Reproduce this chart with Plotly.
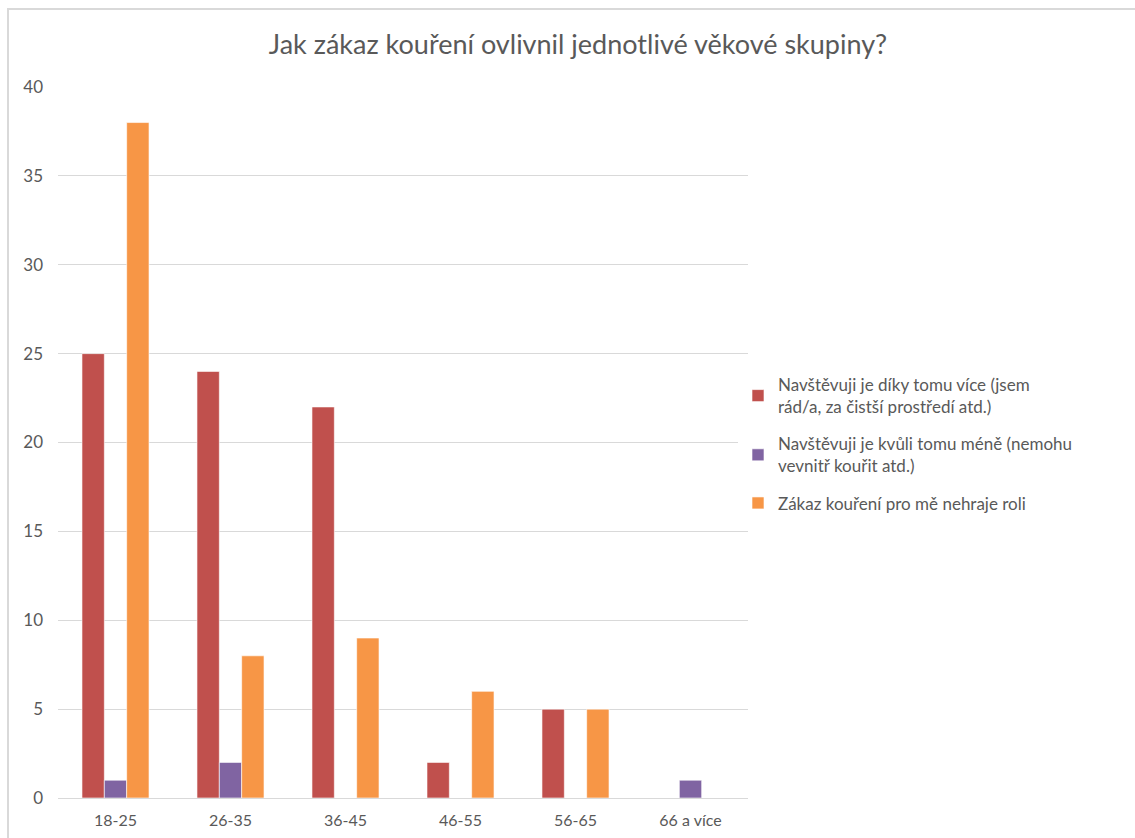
import plotly.graph_objects as go

categories = ["18-25", "26-35", "36-45", "46-55", "56-65", "66 a více"]
more_visits = [25, 24, 22, 2, 5, None]
less_visits = [1, 2, None, None, None, 1]
no_role = [38, 8, 9, 6, 5, None]

series_names = [
    "Navštěvuji je díky tomu více (jsem<br>rád/a, za čistší prostředí atd.)",
    "Navštěvuji je kvůli tomu méně (nemohu<br>vevnitř kouřit atd.)",
    "Zákaz kouření pro mě nehraje roli",
]
colors = ["#C0504D", "#8064A2", "#F79646"]
y_ticks = [0, 5, 10, 15, 20, 25, 30, 35, 40]

FONT = "Lato, Open Sans, sans-serif"
fig = go.Figure()
for i, (name, vals, col) in enumerate(zip(series_names, [more_visits, less_visits, no_role], colors)):
    fig.add_trace(go.Bar(
        x=categories, y=vals, name=name, legendgroup=f"g{i}",
        marker=dict(color=col, line=dict(color="rgba(255,255,255,0.6)", width=1)),
    ))

fig.update_layout(
    width=1135, height=838,
    margin=dict(l=58, r=387, t=87, b=40, autoexpand=False),
    paper_bgcolor="white", plot_bgcolor="white",
    barmode="group", bargap=0.417, bargroupgap=0,
    title=dict(text="Jak zákaz kouření ovlivnil jednotlivé věkové skupiny?",
               x=578 / 1135, xanchor="center", y=1 - 45 / 838, yanchor="middle",
               font=dict(family=FONT, size=27, color="#595959")),
    font=dict(family=FONT, size=16, color="#595959"),
    legend=dict(x=(738 - 58) / 690, xanchor="left", y=(798 - 444) / 711, yanchor="middle",
                font=dict(family=FONT, size=17, color="#595959"),
                tracegroupgap=12, itemwidth=30),
    showlegend=True,
    shapes=[dict(type="rect", xref="paper", yref="paper",
                 x0=(8 - 58) / 690, x1=1.7, y0=-0.3, y1=(798 - 9) / 711,
                 line=dict(color="#D9D9D9", width=2), fillcolor="rgba(0,0,0,0)",
                 layer="below")],
)
fig.update_xaxes(showgrid=False, showline=True, linecolor="#D9D9D9", linewidth=1,
                 automargin=False, ticks="", ticklabelstandoff=8,
                 tickfont=dict(size=16, color="#595959"))
fig.update_yaxes(range=[0, 40], tickvals=y_ticks, showgrid=True, gridcolor="#D9D9D9",
                 gridwidth=1, zeroline=False, showline=False, ticks="", automargin=False,
                 ticklabelstandoff=14, tickfont=dict(size=17, color="#595959"))

fig.write_html("out.html")
